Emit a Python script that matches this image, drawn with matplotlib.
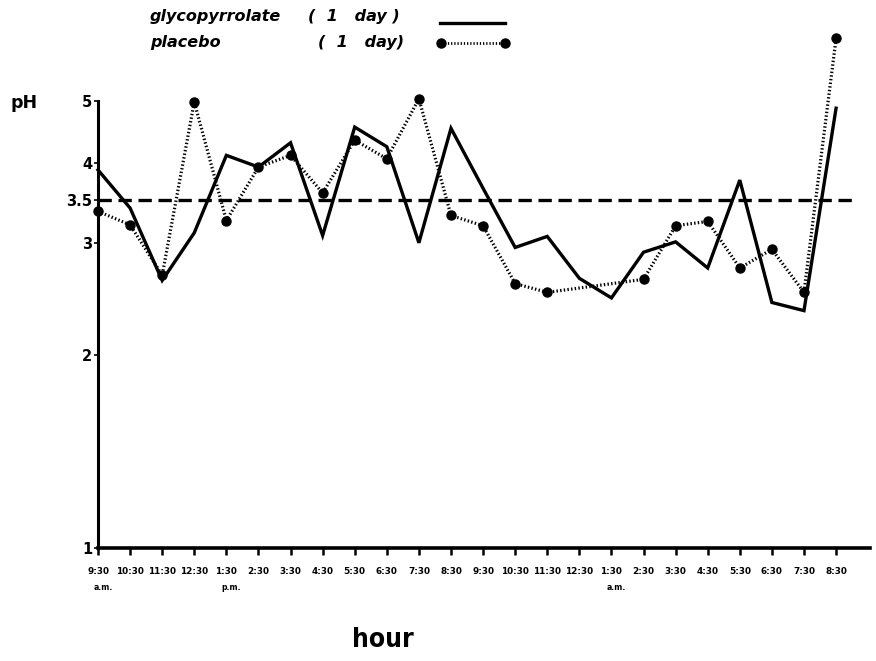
import matplotlib
matplotlib.use("Agg")
import matplotlib.pyplot as plt
from matplotlib.lines import Line2D
import matplotlib.transforms as mtransforms
import numpy as np

# ---- data ----
hour_labels = ["9:30", "10:30", "11:30", "12:30", "1:30", "2:30", "3:30", "4:30",
               "5:30", "6:30", "7:30", "8:30", "9:30", "10:30", "11:30", "12:30",
               "1:30", "2:30", "3:30", "4:30", "5:30", "6:30", "7:30", "8:30"]
period_labels = {0: "a.m.", 4: "p.m.", 16: "a.m."}

glyco_idx = list(range(24))
glyco_ph = [3.90, 3.40, 2.62, 3.11, 4.11, 3.94, 4.30, 3.08, 4.55, 4.24, 3.00, 4.53,
            3.65, 2.95, 3.07, 2.64, 2.46, 2.90, 3.01, 2.74, 3.76, 2.42, 2.35, 4.87]

placebo_idx = [0, 1, 2, 3, 4, 5, 6, 7, 8, 9, 10, 11, 12, 13, 14, 17, 18, 19, 20, 21, 22, 23]
placebo_ph = [3.36, 3.20, 2.67, 4.98, 3.25, 3.94, 4.11, 3.59, 4.34, 4.06, 5.04, 3.31,
              3.19, 2.59, 2.51, 2.63, 3.19, 3.24, 2.74, 2.93, 2.51, 6.26]

threshold = 3.5
ytick_vals = [1, 2, 3, 3.5, 4, 5]
ytick_labels = ["1", "2", "3", "3.5", "4", "5"]

# ---- figure ----
W, H = 876, 661
fig = plt.figure(figsize=(W / 100, H / 100), dpi=100)
left_px, right_px, bottom_px, top_px = 98, 870, 548, 28
ax = fig.add_axes([left_px / W, 1 - bottom_px / H,
                   (right_px - left_px) / W, (bottom_px - top_px) / H])

ax.set_yscale("log")
ax.set_ylim(1, 6.5)
ax.set_xlim(0, (right_px - left_px) / 32.09)

ax.plot(glyco_idx, glyco_ph, color="black", lw=2.4, solid_joinstyle="miter",
        clip_on=False, zorder=3)
ax.plot(placebo_idx, placebo_ph, color="black", lw=2.3, linestyle=(0, (0.45, 0.7)),
        marker="o", markersize=6.5, clip_on=False, zorder=3)
ax.plot([0, 23.55], [threshold, threshold], color="black", lw=2.4,
        linestyle=(0, (4, 2)), clip_on=False, zorder=2)

# spines
for s in ["top", "right"]:
    ax.spines[s].set_visible(False)
ax.spines["left"].set_linewidth(2.2)
ax.spines["left"].set_bounds(1, 5)
ax.spines["bottom"].set_linewidth(2.6)

# y ticks
ax.yaxis.set_minor_locator(matplotlib.ticker.NullLocator())
ax.set_yticks(ytick_vals)
ax.set_yticklabels(ytick_labels, fontsize=10.5, fontweight="bold")
ax.tick_params(axis="y", direction="out", length=3, width=1.2, pad=1)

# x ticks
ax.set_xticks(range(len(hour_labels)))
ax.set_xticklabels(hour_labels, fontsize=6.4, fontweight="bold")
ax.tick_params(axis="x", direction="out", length=5, width=1.8, pad=9)

trans = mtransforms.blended_transform_factory(ax.transData, ax.transAxes)
for i, lab in period_labels.items():
    ax.text(i + 0.15, -0.068, lab, transform=trans, ha="center", va="top",
            fontsize=5.6, fontweight="bold")

# axis labels
fig.text(10 / W, 1 - 103 / H, "pH", fontsize=12.5, fontweight="bold",
         ha="left", va="center")
fig.text(383 / W, 1 - 640 / H, "hour", fontsize=19, fontweight="bold",
         fontstretch="condensed", ha="center", va="center")

# legend (manual)
fig.text(150 / W, 1 - 17 / H, "glycopyrrolate", fontsize=11.5, fontweight="bold",
         style="italic", ha="left", va="center")
fig.text(308 / W, 1 - 17 / H, "(  1   day )", fontsize=11.5, fontweight="bold",
         style="italic", ha="left", va="center")
fig.text(150 / W, 1 - 42 / H, "placebo", fontsize=11.5, fontweight="bold",
         style="italic", ha="left", va="center")
fig.text(318 / W, 1 - 42 / H, "(  1   day)", fontsize=11.5, fontweight="bold",
         style="italic", ha="left", va="center")
fig.add_artist(Line2D([440 / W, 505 / W], [1 - 23 / H, 1 - 23 / H],
                      transform=fig.transFigure, color="black", lw=2.4))
fig.add_artist(Line2D([441 / W, 505 / W], [1 - 43 / H, 1 - 43 / H],
                      transform=fig.transFigure, color="black", lw=2.0,
                      linestyle=(0, (0.45, 0.7)), marker="o", markersize=6.5))

fig.savefig("out.png", dpi=100)
